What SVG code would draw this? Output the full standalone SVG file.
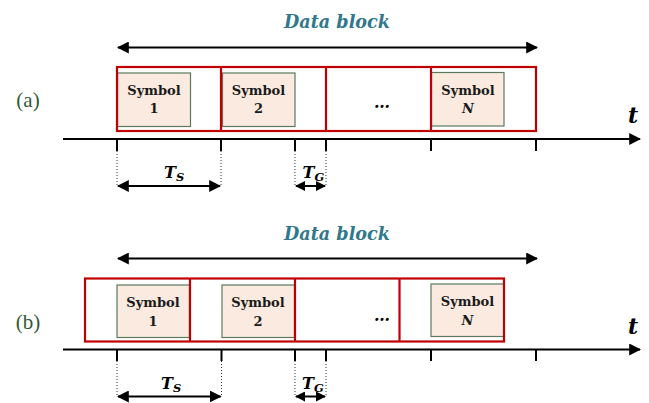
<svg xmlns="http://www.w3.org/2000/svg" width="649" height="403" viewBox="0 0 649 403">
<defs>
<style>
.title{font-family:"DejaVu Serif","Liberation Serif",serif;font-weight:bold;font-style:italic;font-size:19px;fill:#31788a}
.panel{font-family:"Liberation Serif","DejaVu Serif",serif;font-size:21px;fill:#2f5a3a}
.sym{fill:#fbeadf;stroke:#5a7a5e;stroke-width:1.2}
.red{fill:none;stroke:#c00000;stroke-width:2.2}
.lbl{font-family:"DejaVu Serif","Liberation Serif",serif;font-weight:bold;font-size:13px;fill:#1a1a1a;text-anchor:middle}
.ital{font-style:italic}
.ax{stroke:#000;stroke-width:2;fill:none}
.tick{stroke:#000;stroke-width:2}
.dot{stroke:#333;stroke-width:1;stroke-dasharray:1 2}
.dim{stroke:#000;stroke-width:2;fill:none}
.tl{font-family:"DejaVu Serif","Liberation Serif",serif;font-weight:bold;font-style:italic;font-size:16px;fill:#000}
.tax{font-family:"DejaVu Serif","Liberation Serif",serif;font-weight:bold;font-style:italic;font-size:22px;fill:#000}
</style>
<marker id="ah" viewBox="0 0 10 10" refX="9" refY="5" markerWidth="6" markerHeight="6" orient="auto-start-reverse" markerUnits="strokeWidth">
<path d="M0,0 L10,5 L0,10 Z" fill="#000"/>
</marker>
<marker id="ahs" viewBox="0 0 10 10" refX="9" refY="5" markerWidth="5" markerHeight="5" orient="auto-start-reverse" markerUnits="strokeWidth">
<path d="M0,0 L10,5 L0,10 Z" fill="#000"/>
</marker>
</defs>

<!-- Panel (a) -->
<g id="panel-a">
<text class="panel" x="28" y="107" text-anchor="middle">(a)</text>
<text class="title" x="337" y="28" text-anchor="middle" textLength="106" lengthAdjust="spacingAndGlyphs">Data block</text>
<g id="a-sym1"><rect class="sym" x="117.5" y="73" width="73" height="53.5"/><text class="lbl" x="154" y="95">Symbol</text><text class="lbl" x="154" y="113">1</text></g>
<g id="a-sym2"><rect class="sym" x="222.5" y="73" width="72.5" height="53.5"/><text class="lbl" x="258.5" y="95">Symbol</text><text class="lbl" x="258.5" y="113">2</text></g>
<g id="a-symN"><rect class="sym" x="431.5" y="72.5" width="72.5" height="53.5"/><text class="lbl" x="468" y="94.5">Symbol</text><text class="lbl ital" x="468" y="112.5">N</text></g>
<g id="a-ellipsis"><text class="tl" x="382" y="108" text-anchor="middle" font-size="17">…</text></g>
<g id="a-frames">
<rect class="red" x="117" y="67" width="419" height="64"/>
<line class="red" x1="221" y1="67" x2="221" y2="131"/>
<line class="red" x1="326" y1="67" x2="326" y2="131"/>
<line class="red" x1="431" y1="67" x2="431" y2="131"/>
</g>
<text class="tax" x="633" y="123" text-anchor="middle">t</text>
<text class="tl" x="164" y="178">T<tspan font-size="11.5" dy="3">S</tspan></text>
<text class="tl" x="302.5" y="178">T<tspan font-size="11.5" dy="3">G</tspan></text>
</g>

<!-- Panel (b) -->
<g id="panel-b">
<text class="panel" x="28" y="329" text-anchor="middle">(b)</text>
<text class="title" x="337" y="240" text-anchor="middle" textLength="106" lengthAdjust="spacingAndGlyphs">Data block</text>
<g id="b-sym1"><rect class="sym" x="117" y="285" width="72.5" height="52.5"/><text class="lbl" x="153" y="307">Symbol</text><text class="lbl" x="153" y="325.5">1</text></g>
<g id="b-sym2"><rect class="sym" x="222" y="285" width="72.5" height="52.5"/><text class="lbl" x="258" y="307">Symbol</text><text class="lbl" x="258" y="325.5">2</text></g>
<g id="b-symN"><rect class="sym" x="431" y="284" width="73" height="52.5"/><text class="lbl" x="467.5" y="306">Symbol</text><text class="lbl ital" x="467.5" y="324.5">N</text></g>
<g id="b-ellipsis"><text class="tl" x="382" y="321" text-anchor="middle" font-size="17">…</text></g>
<g id="b-frames">
<rect class="red" x="85" y="278.5" width="419" height="63"/>
<line class="red" x1="190" y1="278.5" x2="190" y2="341.5"/>
<line class="red" x1="295" y1="278.5" x2="295" y2="341.5"/>
<line class="red" x1="399.5" y1="278.5" x2="399.5" y2="341.5"/>
</g>
<text class="tax" x="633" y="334" text-anchor="middle">t</text>
<text class="tl" x="161" y="389">T<tspan font-size="11.5" dy="3">S</tspan></text>
<text class="tl" x="302" y="389">T<tspan font-size="11.5" dy="3">G</tspan></text>
</g>

<g id="connectors">
<!-- (a) -->
<line class="dim" x1="118" y1="47.5" x2="537" y2="47.5" marker-start="url(#ah)" marker-end="url(#ah)"/>
<line class="ax" x1="63" y1="139" x2="640" y2="139" marker-end="url(#ah)"/>
<line class="tick" x1="117" y1="139" x2="117" y2="151"/>
<line class="tick" x1="221" y1="139" x2="221" y2="151"/>
<line class="tick" x1="295" y1="139" x2="295" y2="151"/>
<line class="tick" x1="326" y1="139" x2="326" y2="151"/>
<line class="tick" x1="431" y1="139" x2="431" y2="151"/>
<line class="tick" x1="536" y1="139" x2="536" y2="151"/>
<line class="dot" x1="117" y1="151" x2="117" y2="187"/>
<line class="dot" x1="221" y1="151" x2="221" y2="187"/>
<line class="dot" x1="295" y1="151" x2="295" y2="187"/>
<line class="dot" x1="326" y1="151" x2="326" y2="187"/>
<line class="dim" x1="118" y1="186" x2="220" y2="186" marker-start="url(#ah)" marker-end="url(#ah)"/>
<line class="dim" x1="296" y1="186" x2="325" y2="186" marker-start="url(#ahs)" marker-end="url(#ahs)"/>
<!-- (b) -->
<line class="dim" x1="118" y1="258.5" x2="537" y2="258.5" marker-start="url(#ah)" marker-end="url(#ah)"/>
<line class="ax" x1="63" y1="349.5" x2="640" y2="349.5" marker-end="url(#ah)"/>
<line class="tick" x1="117" y1="349.5" x2="117" y2="361"/>
<line class="tick" x1="221.5" y1="349.5" x2="221.5" y2="361"/>
<line class="tick" x1="295" y1="349.5" x2="295" y2="361"/>
<line class="tick" x1="326" y1="349.5" x2="326" y2="361"/>
<line class="tick" x1="431" y1="349.5" x2="431" y2="361"/>
<line class="tick" x1="536" y1="349.5" x2="536" y2="361"/>
<line class="dot" x1="117" y1="361" x2="117" y2="397"/>
<line class="dot" x1="221.5" y1="361" x2="221.5" y2="397"/>
<line class="dot" x1="295" y1="361" x2="295" y2="397"/>
<line class="dot" x1="326" y1="361" x2="326" y2="397"/>
<line class="dim" x1="118" y1="396.5" x2="220.5" y2="396.5" marker-start="url(#ah)" marker-end="url(#ah)"/>
<line class="dim" x1="296" y1="396.5" x2="325" y2="396.5" marker-start="url(#ahs)" marker-end="url(#ahs)"/>
</g>
</svg>
